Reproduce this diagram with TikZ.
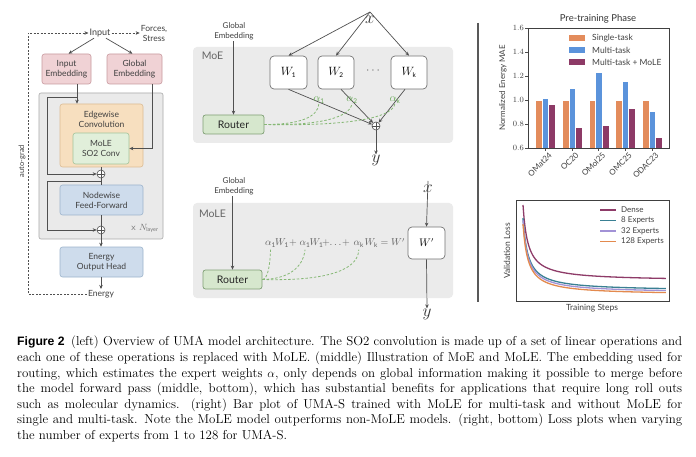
\documentclass[tikz,border=0pt]{standalone}
\usepackage{fontspec}
\newfontfamily\dfont{Lato}
\newfontfamily\capsans{Liberation Sans}
\usetikzlibrary{arrows.meta}
\definecolor{arrowc}{HTML}{505050}
\definecolor{pinkf}{HTML}{F0D2D5}
\definecolor{pinkd}{HTML}{C89A9F}
\definecolor{grayf}{HTML}{EAEAEA}
\definecolor{grayd}{HTML}{A9A9A9}
\definecolor{orf}{HTML}{F7DFBF}
\definecolor{ord}{HTML}{DCBC94}
\definecolor{grf}{HTML}{E1EFDA}
\definecolor{grd}{HTML}{A3C39A}
\definecolor{blf}{HTML}{CEDCEC}
\definecolor{bld}{HTML}{9DB4CC}
\definecolor{panelf}{HTML}{EBEBEB}
\definecolor{routerf}{HTML}{D6E7CD}
\definecolor{routerd}{HTML}{80A075}
\definecolor{gdash}{HTML}{86B875}
\definecolor{alphac}{HTML}{6AA85A}
\definecolor{baror}{HTML}{E38C5C}
\definecolor{barbl}{HTML}{5B93DB}
\definecolor{barpu}{HTML}{8D3A66}
\definecolor{ldense}{HTML}{8E3B68}
\definecolor{lteal}{HTML}{3A8093}
\definecolor{llav}{HTML}{A292D6}
\definecolor{lor}{HTML}{E38A4E}
\definecolor{txtc}{HTML}{404040}
\newcommand\dsub[1]{\mbox{\dfont\fontsize{6.5}{6.5}\selectfont #1}}
\tikzset{
  arr/.style={draw=arrowc, line width=0.7pt, -{Stealth[length=4pt,width=3.5pt]}},
  plainline/.style={draw=arrowc, line width=0.7pt},
  dasharr/.style={draw=arrowc, line width=0.6pt, dash pattern=on 2pt off 1.5pt, -{Stealth[length=4pt,width=3.5pt]}},
  lbl/.style={font=\dfont\fontsize{8.5}{10}\selectfont, text=txtc, align=center, inner sep=1pt},
  pinkbox/.style={draw=pinkd, fill=pinkf, rounded corners=2.5pt, line width=0.6pt, font=\dfont\fontsize{8.5}{10}\selectfont, text=txtc, align=center},
  orbox/.style={draw=ord, fill=orf, rounded corners=2.5pt, line width=0.6pt},
  grbox/.style={draw=grd, fill=grf, rounded corners=2.5pt, line width=0.6pt, font=\dfont\fontsize{8.5}{10}\selectfont, text=txtc, align=center},
  blbox/.style={draw=bld, fill=blf, rounded corners=2.5pt, line width=0.6pt, font=\dfont\fontsize{8.5}{10}\selectfont, text=txtc, align=center},
  layerbox/.style={draw=grayd, fill=grayf, rounded corners=2pt, line width=0.6pt},
  oplus/.style={circle, draw=arrowc, fill=white, line width=0.6pt, minimum size=8pt, inner sep=0pt,
    path picture={\draw[arrowc, line width=0.5pt] (path picture bounding box.north) -- (path picture bounding box.south) (path picture bounding box.west) -- (path picture bounding box.east);}},
  panel/.style={fill=panelf, rounded corners=4pt, draw=none},
  plabel/.style={font=\dfont\fontsize{10.5}{10.5}\selectfont, text=black!60, inner sep=0pt},
  wbox/.style={draw=black!55, fill=white, rounded corners=4pt, line width=0.7pt, font=\fontsize{11.5}{11.5}\selectfont},
  routerbox/.style={draw=routerd, fill=routerf, rounded corners=2.5pt, line width=0.7pt, font=\dfont\fontsize{10.5}{10.5}\selectfont, text=black!85, minimum width=61pt, minimum height=19pt},
  gdashed/.style={draw=gdash, line width=0.8pt, dash pattern=on 2.5pt off 1.8pt},
  alab/.style={text=alphac, font=\fontsize{10.5}{10.5}\selectfont, inner sep=0pt},
  fterm/.style={text=black!62, font=\fontsize{10}{10}\selectfont, inner sep=0pt, anchor=base west},
  fop/.style={text=black!62, font=\fontsize{10}{10}\selectfont, inner sep=0pt, anchor=base},
  mathlbl/.style={font=\fontsize{16}{16}\selectfont, text=black!80, inner sep=0pt},
  axtext/.style={font=\dfont\fontsize{8.5}{8.5}\selectfont, text=txtc, inner sep=1pt},
  smtext/.style={font=\dfont\fontsize{8}{8}\selectfont, text=txtc, inner sep=1pt},
}
\begin{document}
\begin{tikzpicture}[x=1pt,y=-1pt]
\useasboundingbox (0,0) rectangle (696,457);
\fill[white] (0,0) rectangle (696,457);

% ================= LEFT PANEL =================
\node[lbl, font=\dfont\fontsize{9}{10}\selectfont] (input) at (100,33) {Input};
\node[lbl] (forces) at (154,33) {Forces,\\Stress};
\node[pinkbox, minimum width=49pt, minimum height=30pt] (inemb) at (66.5,69) {Input\\Embedding};
\node[pinkbox, minimum width=55pt, minimum height=30pt] (gemb) at (134.5,69) {Global\\Embedding};
\node[layerbox, minimum width=124pt, minimum height=146pt] (layer) at (101,166) {};
\node[orbox, minimum width=83pt, minimum height=63pt] (edge) at (101.5,135.5) {};
\node[lbl] (edgelbl) at (101.5,119) {Edgewise\\Convolution};
\node[grbox, minimum width=56pt, minimum height=31pt] (so2) at (101,148.5) {MoLE\\SO2 Conv};
\node[oplus] (p1) at (101,174) {};
\node[blbox, minimum width=83pt, minimum height=30pt] (nodew) at (101.5,200) {Nodewise\\Feed-Forward};
\node[oplus] (p2) at (101,230) {};
\node[blbox, minimum width=83pt, minimum height=30pt] (head) at (101.5,262) {Energy\\Output Head};
\node[lbl] (energy) at (101,294) {Energy};
\node[lbl, font=\fontsize{9.5}{9.5}\selectfont, text=black!55] (nlayer) at (145,228) {\textsf{x} $N_{\mbox{\dfont\fontsize{5.5}{5.5}\selectfont layer}}$};
\node[lbl, rotate=90, font=\dfont\fontsize{7.5}{7.5}\selectfont] (autograd) at (22,161) {auto-grad};

\coordinate (agt) at (28,33);
\coordinate (agb) at (28,294);
\draw[dasharr] (energy.west) -- (agb) -- (agt) -- (input.west);
\draw[dasharr] (input.east) -- (forces.west);
\draw[arr] ([xshift=-6pt]input.south) -- ([xshift=2pt]inemb.north);
\draw[arr] ([xshift=6pt]input.south) -- ([xshift=-2pt]gemb.north);
\draw[arr] ([xshift=10.5pt]inemb.south) -- ([xshift=10.5pt]inemb.south |- edge.north);
\coordinate (r1a) at (77,97);
\coordinate (r1l) at (47,97);
\draw[arr] (r1a) -- (r1l) |- (p1.west);
\draw[arr] ([xshift=17.5pt]gemb.south) |- (so2.east);
\draw[plainline] (edge.south -| p1.north) -- (p1.north);
\draw[plainline] (p1.south) -- (p1.south |- nodew.north);
\coordinate (r2a) at (101,181);
\coordinate (r2l) at (47,181);
\draw[arr] (r2a) -- (r2l) |- (p2.west);
\draw[plainline] (nodew.south -| p2.north) -- (p2.north);
\draw[arr] (p2.south) -- (p2.south |- head.north);
\draw[arr] (head.south -| energy.north) -- (energy.north);

% ================= MIDDLE: MoE =================
\node[panel, minimum width=260pt, minimum height=96pt] (moe) at (323,95) {};
\node[plabel] (moelbl) at (212.5,56) {MoE};
\node[lbl, font=\dfont\fontsize{8}{9.5}\selectfont] (gemb1) at (234,31.5) {Global\\Embedding};
\node[routerbox] (router1) at (233.5,124.5) {Router};
\node[mathlbl] (x1) at (370,20) {$x$};
\node[wbox, minimum width=37pt, minimum height=33pt] (w1) at (288.5,72.5) {$W_{\dsub{1}}$};
\node[wbox, minimum width=36pt, minimum height=33pt] (w2) at (336,72.5) {$W_{\dsub{2}}$};
\node[wbox, minimum width=36pt, minimum height=33pt] (wk) at (409,72.5) {$W_{\dsub{k}}$};
\node[font=\fontsize{13}{13}\selectfont, text=black!60] (dots) at (373,71) {$\cdots$};
\node[oplus] (pmoe) at (376,126) {};
\node[mathlbl] (y1) at (376,160) {$y$};
\draw[arr] (gemb1.south -| router1.north) -- (router1.north);
\draw[arr] ([yshift=8pt]x1.center) -- (w1.north);
\draw[arr] ([yshift=8pt]x1.center) -- (w2.north);
\draw[arr] ([yshift=8pt]x1.center) -- (wk.north);
\draw[arr] (w1.south) -- (pmoe);
\draw[arr] ([xshift=5pt]w2.south) -- (pmoe);
\draw[arr] ([xshift=-4pt]wk.south) -- (pmoe);
\draw[arr] (pmoe) -- (y1.north);
\node[alab] (a1) at (319,100) {$\alpha_{\dsub{1}}$};
\node[alab] (a2) at (352,100) {$\alpha_{\dsub{2}}$};
\node[alab] (ak) at (395,100) {$\alpha_{\dsub{k}}$};
\draw[gdashed] (router1.east) .. controls (298,124.5) and (318,118) .. (a1.south);
\draw[gdashed] (router1.east) .. controls (310,125.5) and (350,120) .. (a2.south);
\draw[gdashed] (router1.east) .. controls (330,126) and (393,121) .. (ak.south);

% ================= MIDDLE: MoLE =================
\node[panel, minimum width=260pt, minimum height=95pt] (mole) at (323,250.5) {};
\node[plabel] (molelbl) at (212.5,214) {MoLE};
\node[lbl, font=\dfont\fontsize{8}{9.5}\selectfont] (gemb2) at (234,186.5) {Global\\Embedding};
\node[routerbox, minimum width=59pt] (router2) at (232.5,279.5) {Router};
\draw[arr] (gemb2.south -| router2.north) -- (router2.north);
\node[fterm] (fa1) at (265,246) {$\alpha_{\dsub{1}}$};
\node[fterm] (fw1) at (275,246) {$W_{\dsub{1}}$};
\node[fop] (fp1) at (293,246) {$+$};
\node[fterm] (fa2) at (299.5,246) {$\alpha_{\dsub{1}}$};
\node[fterm] (fw2) at (309.5,246) {$W_{\dsub{1}}$};
\node[fop] (fp2) at (326,246) {$+$};
\node[fop] (fdots) at (335.5,246) {$\ldots$};
\node[fop] (fp3) at (346,246) {$+$};
\node[fterm] (fak) at (353.5,246) {$\alpha_{\dsub{k}}$};
\node[fterm] (fwk) at (364.5,246) {$W_{\dsub{k}}$};
\node[fop] (feq) at (384.5,246) {$=$};
\node[fterm] (fwp) at (391,246) {$W'$};
\draw[gdashed] (router2.east) .. controls (268,279) and (270,265) .. ([yshift=-2pt]fa1.south);
\draw[gdashed] (router2.east) .. controls (288,279) and (303,268) .. ([yshift=-2pt]fa2.south);
\draw[gdashed] (router2.east) .. controls (318,281) and (358,273) .. ([yshift=-2pt]fak.south);
\node[mathlbl] (x2) at (428,189) {$x$};
\node[wbox, minimum width=37pt, minimum height=32pt, font=\fontsize{10.5}{10.5}\selectfont] (wp) at (426.5,243) {$W'$};
\node[mathlbl] (y2) at (427,314) {$y$};
\draw[arr] ([yshift=8pt]x2.center) -- (wp.north);
\draw[arr] (wp.south) -- (y2.north);

% separator
\coordinate (s1) at (478,23);
\coordinate (s2) at (478,302);
\draw[line width=1.3pt, black!65] (s1) -- (s2);

% ================= RIGHT: BAR CHART =================
\node[font=\dfont\fontsize{9.5}{9.5}\selectfont, text=black!80] (bartitle) at (598,19) {Pre-training Phase};
\foreach \gc/\b/\p in {545.3/1.015/0.965, 572/1.0975/0.77, 598.7/1.228/0.792, 625.3/1.158/0.931, 652/0.908/0.694} {
  \filldraw[fill=baror, draw=white, line width=0.3pt] ({\gc-10},148) rectangle ({\gc-3.33},100);
  \filldraw[fill=barbl, draw=white, line width=0.3pt] ({\gc-3.33},148) rectangle ({\gc+3.33},{148-(\b-0.6)*120});
  \filldraw[fill=barpu, draw=white, line width=0.3pt] ({\gc+3.33},148) rectangle ({\gc+10},{148-(\p-0.6)*120});
  \draw[black!70, line width=0.5pt] (\gc,148) -- (\gc,151);
}
\draw[black!75, line width=0.6pt] (528,28) rectangle (669,148);
\foreach \v in {0.6,0.8,1.0,1.2,1.4,1.6} {
  \draw[black!70, line width=0.5pt] (528,{148-(\v-0.6)*120}) -- (525,{148-(\v-0.6)*120})
    node[axtext, anchor=east] {\pgfmathprintnumber[fixed,fixed zerofill,precision=1]{\v}};
}
\node[smtext, rotate=90] (ylab1) at (503,88) {Normalized Energy MAE};
\foreach \gc/\t in {545.3/OMat24, 572/OC20, 598.7/OMol25, 625.3/OMC25, 652/ODAC23} {
  \node[axtext, font=\dfont\fontsize{8}{8}\selectfont, rotate=45, anchor=north east, inner sep=0.5pt] at ({\gc+3},151) {\t};
}
\fill[baror] (569,35) rectangle (585,41);
\fill[barbl] (569,47) rectangle (585,53);
\fill[barpu] (569,59) rectangle (585,65);
\node[axtext, anchor=west] at (591,38) {Single-task};
\node[axtext, anchor=west] at (591,50) {Multi-task};
\node[axtext, anchor=west] at (591,62) {Multi-task + MoLE};

% ================= RIGHT: LOSS PLOT =================
\draw[ldense, line width=1.3pt] plot[domain=0:1, samples=120, smooth] ({523+143*\x},{281+(205-281)*0.035/(\x+0.035)});
\draw[lteal, line width=1.3pt] plot[domain=0:1, samples=120, smooth] ({523+143*\x},{291+(218-291)*0.035/(\x+0.035)});
\draw[llav, line width=1.3pt] plot[domain=0:1, samples=120, smooth] ({523+143*\x},{293+(220-293)*0.035/(\x+0.035)});
\draw[lor, line width=1.3pt] plot[domain=0:1, samples=120, smooth] ({523+143*\x},{295+(224-295)*0.035/(\x+0.035)});
\draw[black!75, line width=0.6pt] (516,200) rectangle (669,301);
\node[smtext, rotate=90, font=\dfont\fontsize{8.5}{8.5}\selectfont] (ylab2) at (507,251) {Validation Loss};
\node[smtext, font=\dfont\fontsize{8.5}{8.5}\selectfont] (xlab2) at (592,308) {Training Steps};
\draw[ldense, line width=1.5pt] (600,210) -- (616,210);
\draw[lteal, line width=1.5pt] (600,220.5) -- (616,220.5);
\draw[llav, line width=1.5pt] (600,231) -- (616,231);
\draw[lor, line width=1.5pt] (600,241.5) -- (616,241.5);
\node[smtext, anchor=west] at (620,210) {Dense};
\node[smtext, anchor=west] at (620,220.5) {8 Experts};
\node[smtext, anchor=west] at (620,231) {32 Experts};
\node[smtext, anchor=west] at (620,241.5) {128 Experts};

% ================= CAPTION =================
\node[anchor=north west, inner sep=0pt, text width=665pt, align=justify,
      font=\fontsize{12.9}{15.6}\selectfont] (caption) at (17,336) {%
{\capsans\bfseries\fontsize{12.2}{12.2}\selectfont Figure 2}\enspace (left) Overview of UMA model architecture. The SO2 convolution is made up of a set of linear operations and\linebreak
each one of these operations is replaced with MoLE. (middle) Illustration of MoE and MoLE. The embedding used for\linebreak
routing, which estimates the expert weights $\alpha$, only depends on global information making it possible to merge before\linebreak
the model forward pass (middle, bottom), which has substantial benefits for applications that require long roll outs\linebreak
such as molecular dynamics. (right) Bar plot of UMA-S trained with MoLE for multi-task and without MoLE for\linebreak
single and multi-task. Note the MoLE model outperforms non-MoLE models. (right, bottom) Loss plots when varying\linebreak
the number of experts from 1 to 128 for UMA-S.};
\end{tikzpicture}
\end{document}
